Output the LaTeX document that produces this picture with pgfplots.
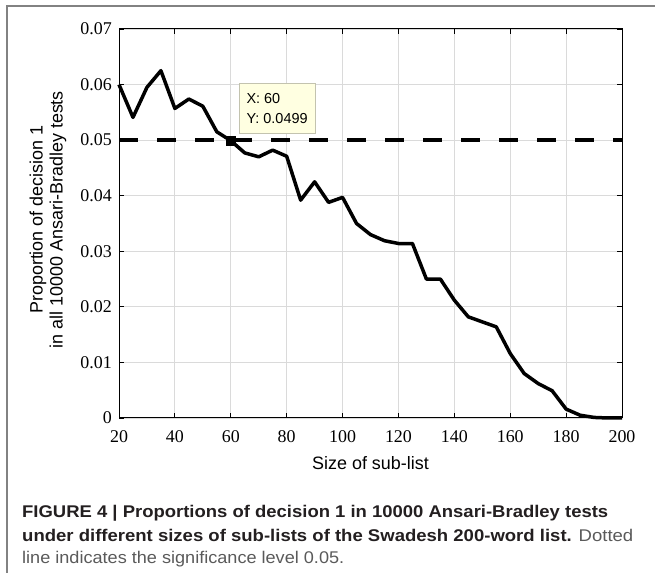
\documentclass[border=0pt]{standalone}
\usepackage{fontspec}
\setmainfont{Liberation Sans}
\newfontfamily\serif{Liberation Serif}
\usepackage{graphicx}
\usepackage{pgfplots}
\pgfplotsset{compat=1.18}

\definecolor{tipfill}{RGB}{255,255,225}
\definecolor{tipdraw}{RGB}{195,195,175}
\definecolor{gridc}{RGB}{218,218,218}
\definecolor{capdark}{RGB}{35,31,32}
\definecolor{capgray}{RGB}{90,90,90}
\definecolor{framegray}{RGB}{130,130,130}

\begin{document}
\begin{tikzpicture}[x=1bp,y=1bp]
\useasboundingbox (0,0) rectangle (655,583);
\draw[framegray, line width=1.3bp] (655,577) -- (7,577) -- (7,10);

\begin{axis}[
  at={(119bp,165bp)}, anchor=south west,
  width=503bp, height=389bp, scale only axis,
  xmin=20, xmax=200, ymin=0, ymax=0.07,
  clip=false, scaled y ticks=false, scaled x ticks=false,
  xtick={20,40,60,80,100,120,140,160,180,200},
  xticklabels={20,40,60,80,100,120,140,160,180,200},
  ytick={0,0.01,0.02,0.03,0.04,0.05,0.06,0.07},
  yticklabels={0,0.01,0.02,0.03,0.04,0.05,0.06,0.07},
  tick align=inside, major tick length=5bp,
  tick style={black, line width=0.8bp},
  grid=major, grid style={gridc, line width=0.8bp},
  axis line style={black, line width=1bp},
  ticklabel style={font=\serif\fontsize{18}{18}\selectfont},
  xticklabel style={anchor=base, yshift=-25bp},
  yticklabel style={anchor=east, inner sep=0pt, xshift=-7bp},
  xlabel={Size of sub-list},
  xlabel style={at={(axis description cs:0.5,-0.1157)}, anchor=center,
    font=\fontsize{18}{20}\selectfont},
  ylabel={Proportion of decision 1\\in all 10000 Ansari-Bradley tests},
  ylabel style={at={(axis description cs:-0.1412,0.51)}, anchor=center,
    align=center, font=\fontsize{18}{20}\selectfont},
]
% significance level
\addplot[black, line width=4bp, dash pattern=on 19bp off 19bp]
  coordinates {(20,0.05) (200,0.05)};

% proportion of decision 1
\addplot[black, line width=3.5bp, line join=round] coordinates {
(20,0.0600) (25,0.0541) (30,0.0595) (35,0.0625) (40,0.0557) (45,0.0574)
(50,0.0561) (55,0.0515) (60,0.0499) (65,0.0477) (70,0.0470) (75,0.0482)
(80,0.0471) (85,0.0392) (90,0.0425) (95,0.0388) (100,0.0397) (105,0.0350)
(110,0.0330) (115,0.0319) (120,0.0314) (125,0.0314) (130,0.0250) (135,0.0250)
(140,0.0212) (145,0.0182) (150,0.0173) (155,0.0164) (160,0.0116) (165,0.0080)
(170,0.0062) (175,0.0049) (180,0.0016) (185,0.0005) (190,0.0001) (195,0.0000)
(200,0.0000)
};

% data tip
\addplot[only marks, mark=square*, mark size=4.5bp, black]
  coordinates {(60,0.0499)};
\node[draw=tipdraw, fill=tipfill, anchor=north west, minimum width=76bp,
  minimum height=50bp, align=left, inner sep=0pt,
  font=\fontsize{14.5}{20}\selectfont] at (axis cs:62.9,0.0603)
  {X: 60\\Y: 0.0499};
\end{axis}

\node[anchor=base west, inner sep=0pt, text=capdark] at (22,65)
  {\resizebox{586bp}{\height}{\fontsize{17}{20}\selectfont\bfseries
   FIGURE 4 | Proportions of decision 1 in 10000 Ansari-Bradley tests}};
\node[anchor=base west, inner sep=0pt, text=capdark] at (22,41)
  {\resizebox{611bp}{\height}{\fontsize{17}{20}\selectfont{\bfseries
   under different sizes of sub-lists of the Swadesh 200-word list.}
   \textcolor{capgray}{Dotted}}};
\node[anchor=base west, inner sep=0pt, text=capgray] at (22,19)
  {\resizebox{322bp}{\height}{\fontsize{17}{20}\selectfont
   line indicates the significance level 0.05.}};
\end{tikzpicture}
\end{document}
